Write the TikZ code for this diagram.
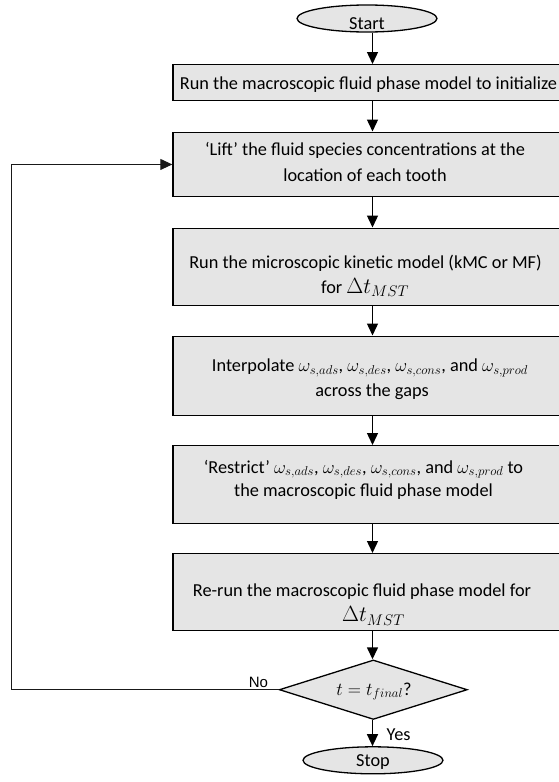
\documentclass[tikz,border=0pt]{standalone}
\usepackage{fix-cm}
\usepackage{fontspec}
\setmainfont{Carlito}
\newfontfamily\arialf{Liberation Sans}
\usetikzlibrary{arrows.meta,shapes.geometric}
\begin{document}
\begin{tikzpicture}[x=1pt,y=-1pt,
  box/.style={draw=black,line width=1.4pt,fill=black!10,minimum width=392pt,inner sep=0pt,anchor=north},
  term/.style={ellipse,draw=black,line width=1.3pt,fill=black!10,minimum width=140pt,minimum height=27pt,inner sep=0pt},
  decision/.style={diamond,draw=black,line width=1.3pt,fill=black!10,minimum width=188pt,minimum height=59.5pt,inner sep=0pt},
  ln/.style={anchor=base,inner sep=0pt,font=\fontsize{18.3}{22}\selectfont},
  big/.style={font=\fontsize{22}{26}\selectfont},
  arr/.style={-{Triangle[length=12pt,width=11pt]},line width=1.4pt},
  loopline/.style={-{Triangle[length=12pt,width=11pt]},line width=1pt,draw=black!90}]
\useasboundingbox (0,0) rectangle (559,782);
\clip (0,0) rectangle (559,782);

% shapes
\node[term] (start) at (367,18.5) {};
\node[box,minimum height=35.5pt] (b1) at (369,64) {};
\node[box,minimum height=64.5pt] (b2) at (369,131.5) {};
\node[box,minimum height=77pt] (b3) at (369,227.5) {};
\node[box,minimum height=79pt] (b4) at (369,335.5) {};
\node[box,minimum height=77.5pt] (b5) at (369,445) {};
\node[box,minimum height=77pt] (b6) at (369,553) {};
\node[decision] (dec) at (373.3,689.7) {};
\node[term] (stop) at (373,760.3) {};

% texts
\node[ln] (tstart) at (367,29) {Start};
\node[ln] (t1) at (368.5,89.3) {Run the macroscopic fluid phase model to initialize};
\node[ln] (t2a) at (365,155) {‘Lift’ the fluid species concentrations at the};
\node[ln] (t2b) at (365,181) {location of each tooth};
\node[ln] (t3a) at (365.5,268) {Run the microscopic kinetic model (kMC or MF)};
\node[ln] (t3b) at (365,293) {for {\fontsize{22}{26}\selectfont$\Delta t_{MST}$}};
\node[ln] (t4a) at (370,371.7) {Interpolate $\omega_{s,ads}$, $\omega_{s,des}$, $\omega_{s,cons}$, and $\omega_{s,prod}$};
\node[ln] (t4b) at (372,396.7) {across the gaps};
\node[ln] (t5a) at (363.5,473) {‘Restrict’ $\omega_{s,ads}$, $\omega_{s,des}$, $\omega_{s,cons}$, and $\omega_{s,prod}$ to};
\node[ln] (t5b) at (363.5,496.7) {the macroscopic fluid phase model};
\node[ln] (t6a) at (362,596.7) {Re-run the macroscopic fluid phase model for};
\node[ln,big] (t6b) at (373.5,621.7) {$\Delta t_{MST}$};
\node[ln] (tdec) at (374,695) {$t=t_{final}$?};
\node[ln] (tstop) at (373,766.5) {Stop};
\node[anchor=base,inner sep=0pt,font=\arialf\fontsize{15}{18}\selectfont] (no) at (258.5,687.7) {No};
\node[ln,anchor=base west] (yes) at (386.5,740) {Yes};

% connectors
\coordinate (ax) at (372.5,0);
\coordinate (lx) at (11,0);
\draw[arr] (start.south -| ax) -- (b1.north -| ax);
\draw[arr] (b1.south -| ax) -- (b2.north -| ax);
\draw[arr] (b2.south -| ax) -- (b3.north -| ax);
\draw[arr] (b3.south -| ax) -- (b4.north -| ax);
\draw[arr] (b4.south -| ax) -- (b5.north -| ax);
\draw[arr] (b5.south -| ax) -- (b6.north -| ax);
\draw[arr] (b6.south -| ax) -- (dec.north -| ax);
\draw[arr] (dec.south -| ax) -- (stop.north -| ax);
\draw[loopline] (dec.west) -- (dec.west -| lx) |- (b2.west);
\end{tikzpicture}
\end{document}
